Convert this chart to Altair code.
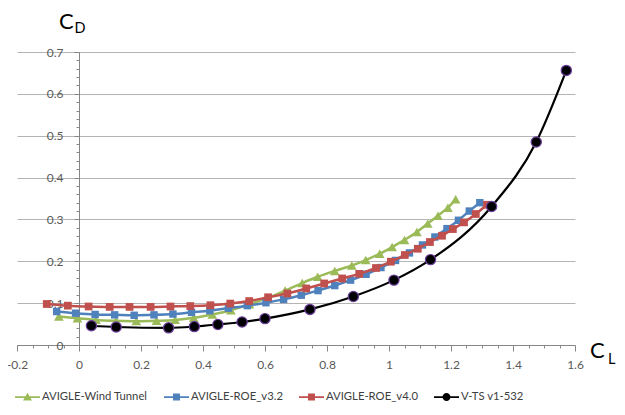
import altair as alt
import pandas as pd

series_names = ["AVIGLE-Wind Tunnel", "AVIGLE-ROE_v3.2", "AVIGLE-ROE_v4.0", "V-TS v1-532"]
series_colors = ["#9BBB59", "#4F81BD", "#C0504D", "#000000"]

# AVIGLE-Wind Tunnel
wt_cl = [-0.065, -0.005, 0.055, 0.12, 0.185, 0.25, 0.31, 0.37, 0.43, 0.49, 0.55, 0.61, 0.665,
         0.72, 0.77, 0.825, 0.88, 0.925, 0.97, 1.01, 1.05, 1.09, 1.125, 1.158, 1.19, 1.215]
wt_cd = [0.068, 0.064, 0.060, 0.058, 0.057, 0.058, 0.060, 0.065, 0.073, 0.083, 0.097, 0.113, 0.130,
         0.148, 0.163, 0.177, 0.190, 0.203, 0.218, 0.234, 0.251, 0.270, 0.290, 0.309, 0.328, 0.348]

# AVIGLE-ROE_v3.2
v32_cl = [-0.072, -0.011, 0.052, 0.115, 0.178, 0.242, 0.303, 0.363, 0.422, 0.482, 0.543, 0.603, 0.660,
          0.717, 0.771, 0.825, 0.876, 0.926, 0.974, 1.021, 1.066, 1.108, 1.148, 1.187, 1.224, 1.259, 1.293]
v32_cd = [0.080, 0.076, 0.073, 0.072, 0.071, 0.072, 0.074, 0.078, 0.082, 0.088, 0.094, 0.101, 0.109,
          0.119, 0.130, 0.142, 0.155, 0.169, 0.185, 0.202, 0.220, 0.239, 0.258, 0.278, 0.298, 0.320, 0.340]

# AVIGLE-ROE_v4.0
v40_cl = [-0.104, -0.036, 0.031, 0.099, 0.163, 0.231, 0.295, 0.359, 0.424, 0.488, 0.549, 0.610, 0.672,
          0.733, 0.791, 0.849, 0.904, 0.958, 1.006, 1.051, 1.093, 1.132, 1.171, 1.206, 1.242, 1.280, 1.316]
v40_cd = [0.098, 0.094, 0.092, 0.091, 0.091, 0.091, 0.092, 0.093, 0.095, 0.099, 0.105, 0.114, 0.123,
          0.135, 0.147, 0.159, 0.170, 0.184, 0.199, 0.215, 0.230, 0.246, 0.261, 0.277, 0.293, 0.313, 0.335]

# V-TS v1-532
vts_cl = [0.040, 0.120, 0.289, 0.372, 0.448, 0.526, 0.600, 0.745, 0.885, 1.016, 1.134, 1.331, 1.475, 1.572]
vts_cd = [0.046, 0.043, 0.041, 0.044, 0.049, 0.055, 0.063, 0.085, 0.116, 0.155, 0.204, 0.331, 0.485, 0.656]

x_tick_values = [round(-0.2 + 0.05 * i, 2) for i in range(37)]
y_tick_values = [round(0.02 * i, 2) for i in range(36)]

frames = []
for name, xs, ys in zip(series_names, [wt_cl, v32_cl, v40_cl, vts_cl], [wt_cd, v32_cd, v40_cd, vts_cd]):
    frames.append(pd.DataFrame({"series": name, "CL": xs, "CD": ys}))
df = pd.concat(frames, ignore_index=True)

FONT = "Lato"
AXIS_GRAY = "#868686"

x_major = "abs(datum.value*5 - round(datum.value*5)) < 0.001"
y_major = "abs(datum.value*10 - round(datum.value*10)) < 0.001"

x_axis = alt.Axis(
    values=x_tick_values, title=None, grid=False, format=".1~f",
    labelExpr=f"{x_major} ? replace(datum.label, '\u2212', '-') : ''",
    tickSize={"condition": {"test": x_major, "value": 6}, "value": 3},
    labelPadding=8, labelFont=FONT, labelFontSize=12, labelColor="#595959",
    domainColor=AXIS_GRAY, tickColor=AXIS_GRAY, labelOverlap=False, labelFlush=False,
)
y_axis = alt.Axis(
    values=y_tick_values, title=None, grid=True, format=".1~f", offset=-62,
    labelExpr=f"{y_major} ? datum.label : ''",
    tickSize={"condition": {"test": y_major, "value": 5}, "value": 3},
    gridOpacity={"condition": {"test": y_major, "value": 1}, "value": 0},
    gridColor="#b4b4b4", gridWidth=1,
    labelPadding=11, labelFont=FONT, labelFontSize=12, labelColor="#595959",
    domainColor=AXIS_GRAY, tickColor=AXIS_GRAY, labelOverlap=False,
)

x_enc = alt.X("CL:Q", scale=alt.Scale(domain=[-0.2, 1.6], nice=False, zero=False), axis=x_axis)
y_enc = alt.Y("CD:Q", scale=alt.Scale(domain=[0, 0.7], nice=False, zero=False), axis=y_axis)

base = alt.Chart(df)
layers = []
marker_shapes = ["triangle-up", "square", "square", "circle"]
marker_sizes = [95, 55, 60, 105]
for name, col, shp, sz in zip(series_names, series_colors, marker_shapes, marker_sizes):
    sub = base.transform_filter(alt.datum.series == name)
    is_black = name == "V-TS v1-532"
    line = sub.mark_line(color=col, strokeWidth=2.2 if is_black else 2.5,
                         interpolate="monotone").encode(x=x_enc, y=y_enc, order="CL:Q")
    if is_black:
        pts = sub.mark_point(shape=shp, filled=True, size=sz, color=col, opacity=1,
                             stroke="#6a3d9a", strokeWidth=1.2).encode(x=x_enc, y=y_enc)
    else:
        pts = sub.mark_point(shape=shp, filled=True, size=sz, color=col, opacity=1).encode(x=x_enc, y=y_enc)
    layers += [line, pts]

line_bar = "M-1,-0.07H1V0.07H-1Z"
legend_paths = [
    line_bar + " M0,-0.34L0.36,0.28H-0.36Z",
    line_bar + " M-0.28,-0.28H0.28V0.28H-0.28Z",
    line_bar + " M-0.28,-0.28H0.28V0.28H-0.28Z",
    line_bar + " M0.32,0A0.32,0.32 0 1,1 -0.32,0A0.32,0.32 0 1,1 0.32,0Z",
]
leg = dict(orient="none", legendX=-2, legendY=332.5, direction="horizontal", title=None,
           symbolSize=625, symbolStrokeWidth=0, labelFont=FONT, labelFontSize=11.3,
           labelColor="#404040", labelOffset=2, columnPadding=16, padding=0)
legend_layer = base.transform_filter("false").mark_point(filled=True, opacity=1).encode(
    x=x_enc, y=y_enc,
    color=alt.Color("series:N", scale=alt.Scale(domain=series_names, range=series_colors),
                    legend=alt.Legend(**leg)),
    shape=alt.Shape("series:N", scale=alt.Scale(domain=series_names, range=legend_paths),
                    legend=alt.Legend(**leg)),
)
layers.append(legend_layer)

one = pd.DataFrame({"k": [0]})
def txt(t, x, y, size):
    return alt.Chart(one).mark_text(text=t, font=FONT, fontSize=size, align="left",
                                    baseline="alphabetic", color="#000000").encode(
        x=alt.value(x), y=alt.value(y))

layers += [txt("C", 42, -23.5, 22), txt("D", 57.5, -19.5, 14.5),
           txt("C", 573, 306, 22), txt("L", 591, 311.5, 14.5)]

chart = alt.layer(*layers).properties(
    width=558, height=293,
    padding={"left": 9, "top": 44, "right": 42, "bottom": 57},
    autosize=alt.AutoSizeParams(type="none"),
).configure_view(stroke="transparent")

chart.save("out.html", embed_options={"renderer": "svg", "actions": False})
